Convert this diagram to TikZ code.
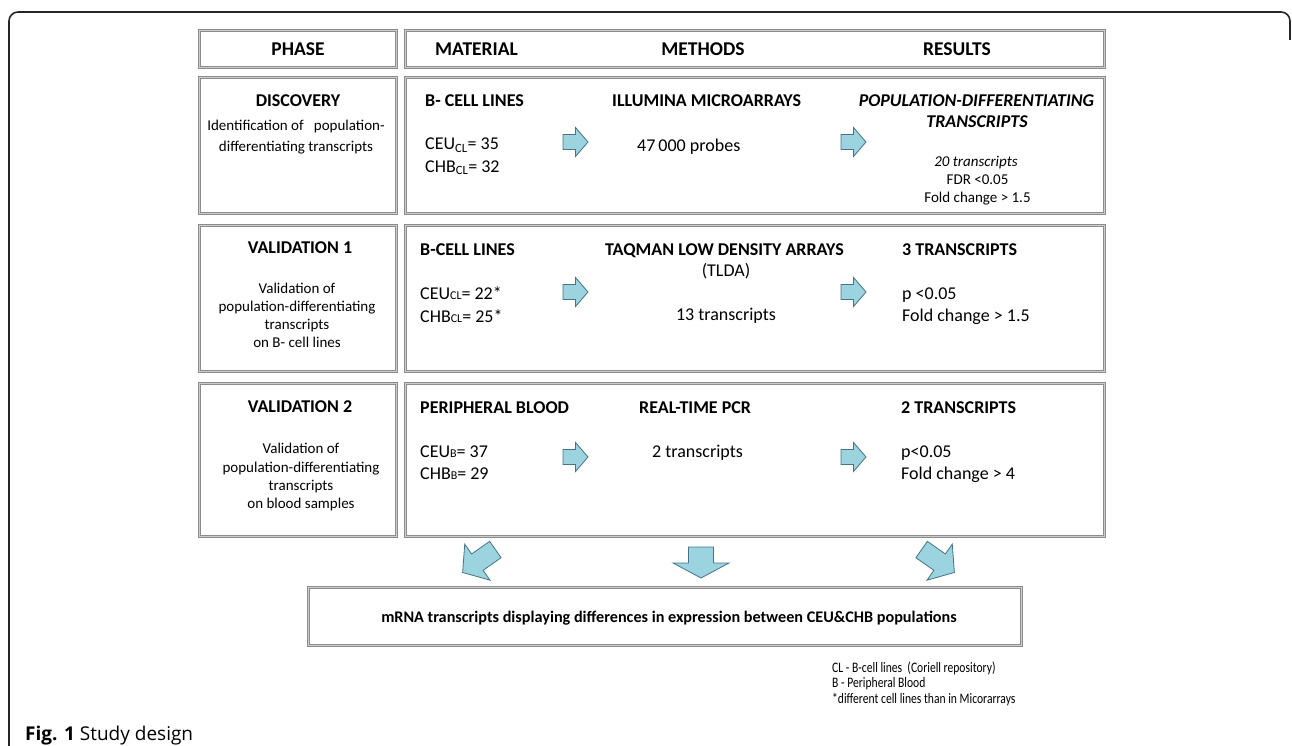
\documentclass[tikz,border=0pt]{standalone}
\usepackage{fontspec}
\setmainfont{Carlito}
\newfontfamily\narrowfont[FakeStretch=0.8]{Carlito}
\newfontfamily\capfont{Open Sans}
\definecolor{arrfillc}{RGB}{155,211,222}
\definecolor{arrdrawc}{RGB}{70,115,135}
\definecolor{boxc}{RGB}{140,140,140}
\definecolor{boxin}{RGB}{205,205,205}
\begin{document}
\begin{tikzpicture}[x=1pt,y=-1pt,
  cell/.style={draw=boxc, double=boxin, double distance=1.5pt, line width=1pt, inner sep=0pt},
  txt/.style={inner sep=0pt, font=\fontsize{18}{21}\selectfont},
  hdr/.style={inner sep=0pt, font=\fontsize{19.5}{22}\selectfont\bfseries},
  ttl/.style={inner sep=0pt, font=\fontsize{18}{21}\selectfont\bfseries},
  dsc/.style={inner sep=0pt, font=\fontsize{15}{18}\selectfont},
  fnote/.style={inner sep=0pt, font=\fontsize{14.5}{15}\narrowfont},
  arrfill/.style={fill=arrfillc, draw=arrdrawc, line width=0.8pt, line join=miter},
  smallarr/.pic={\draw[arrfill] (-12.5,-7.5) -- (0,-7.5) -- (0,-14.5) -- (12.5,0) -- (0,14.5) -- (0,7.5) -- (-12.5,7.5) -- cycle;},
  bigarr/.pic={\draw[arrfill] (-15.5,-12.5) -- (0.5,-12.5) -- (0.5,-28) -- (15.5,0) -- (0.5,28) -- (0.5,12.5) -- (-15.5,12.5) -- cycle;},
  diagarr/.pic={\draw[arrfill] (-20,-10) -- (2,-10) -- (2,-22) -- (20,0) -- (2,22) -- (2,10) -- (-20,10) -- cycle;}
]
\useasboundingbox (0,0) rectangle (1292,746);
% outer frame
\draw[line width=1.6pt, black!85, rounded corners=9pt] (9,750) -- (9,12) -- (1290,12) -- (1290,40);

% boxes
\node[cell, minimum width=197pt, minimum height=37pt] (phaseh) at (298,49) {};
\node[cell, minimum width=699pt, minimum height=37pt] (mmrh) at (755,49) {};
\node[cell, minimum width=197pt, minimum height=136pt] (disc) at (298,145.5) {};
\node[cell, minimum width=699pt, minimum height=136pt] (discR) at (755,145.5) {};
\node[cell, minimum width=197pt, minimum height=146pt] (valA) at (298,298.5) {};
\node[cell, minimum width=699pt, minimum height=146pt] (valAR) at (755,298.5) {};
\node[cell, minimum width=197pt, minimum height=153pt] (valB) at (298,460) {};
\node[cell, minimum width=699pt, minimum height=153pt] (valBR) at (755,460) {};
\node[cell, minimum width=713pt, minimum height=58pt] (final) at (665,616.5) {};

% headers
\node[hdr, anchor=base] (hphase) at (298,56) {PHASE};
\node[hdr, anchor=base west] (hmat) at (435,56) {MATERIAL};
\node[hdr, anchor=base] (hmeth) at (703,56) {METHODS};
\node[hdr, anchor=base] (hres) at (957,56) {RESULTS};

% discovery
\node[ttl, anchor=base] (t1) at (298,107) {DISCOVERY};
\node[dsc, anchor=base] (d1a) at (296,130.5) {Identification of \ \ population-};
\node[dsc, anchor=base] (d1b) at (296,151.5) {differentiating transcripts};
\node[ttl, anchor=base west] (m1) at (425,107) {B- CELL LINES};
\node[txt, anchor=base west] (m1a) at (425,150) {CEU\textsubscript{CL}= 35};
\node[txt, anchor=base west] (m1b) at (425,172) {CHB\textsubscript{CL}= 32};
\node[ttl, anchor=base west] (me1) at (612,107) {ILLUMINA MICROARRAYS};
\node[txt, anchor=base west] (me1a) at (637,152) {47\,000 probes};
\node[ttl, anchor=base] (r1) at (976.5,107) {\itshape POPULATION-DIFFERENTIATING};
\node[ttl, anchor=base] (r1b) at (977,128) {\itshape TRANSCRIPTS};
\node[dsc, anchor=base] (r1c) at (976,167) {\itshape 20 transcripts};
\node[dsc, anchor=base] (r1d) at (977.5,185) {FDR <0.05};
\node[dsc, anchor=base] (r1e) at (977.5,203) {Fold change > 1.5};

% validation 1
\node[ttl, anchor=base] (t2) at (300,253) {VALIDATION 1};
\node[dsc, anchor=base] (d2a) at (297,293) {Validation of};
\node[dsc, anchor=base] (d2b) at (297,311) {population-differentiating};
\node[dsc, anchor=base] (d2c) at (297,329) {transcripts};
\node[dsc, anchor=base] (d2d) at (297,347) {on B- cell lines};
\node[ttl, anchor=base west] (m2) at (420,255) {B-CELL LINES};
\node[txt, anchor=base west] (m2a) at (420,299) {CEU{\fontsize{12}{12}\selectfont CL}= 22*};
\node[txt, anchor=base west] (m2b) at (420,322) {CHB{\fontsize{12}{12}\selectfont CL}= 25*};
\node[ttl, anchor=base west] (me2) at (605,255) {TAQMAN LOW DENSITY ARRAYS};
\node[txt, anchor=base] (me2a) at (726,276) {(TLDA)};
\node[txt, anchor=base] (me2b) at (726,320) {13 transcripts};
\node[ttl, anchor=base west] (r2) at (902,255) {3 TRANSCRIPTS};
\node[txt, anchor=base west] (r2a) at (902,299) {p <0.05};
\node[txt, anchor=base west] (r2b) at (902,321) {Fold change > 1.5};

% validation 2
\node[ttl, anchor=base] (t3) at (300,412) {VALIDATION 2};
\node[dsc, anchor=base] (d3a) at (301,453) {Validation of};
\node[dsc, anchor=base] (d3b) at (301,472) {population-differentiating};
\node[dsc, anchor=base] (d3c) at (301,490) {transcripts};
\node[dsc, anchor=base] (d3d) at (301,508) {on blood samples};
\node[ttl, anchor=base west] (m3) at (420,413) {PERIPHERAL BLOOD};
\node[txt, anchor=base west] (m3a) at (420,457) {CEU{\fontsize{12}{12}\selectfont B}= 37};
\node[txt, anchor=base west] (m3b) at (420,479) {CHB{\fontsize{12}{12}\selectfont B}= 29};
\node[ttl, anchor=base west] (me3) at (639,413) {REAL-TIME PCR};
\node[txt, anchor=base west] (me3a) at (652,457) {2 transcripts};
\node[ttl, anchor=base west] (r3) at (901,413) {2 TRANSCRIPTS};
\node[txt, anchor=base west] (r3a) at (901,457) {p<0.05};
\node[txt, anchor=base west] (r3b) at (901,479) {Fold change > 4};

% small arrows
\pic (a11) at (575.5,142) {smallarr};
\pic (a12) at (853.5,142) {smallarr};
\pic (a21) at (575.5,292) {smallarr};
\pic (a22) at (853.5,292) {smallarr};
\pic (a31) at (575.5,457) {smallarr};
\pic (a32) at (853.5,457) {smallarr};

% big arrows
\pic[rotate=215] (bl) at (479,561) {diagarr};
\pic[rotate=270] (bm) at (701,562.5) {bigarr};
\pic[rotate=325] (br) at (938,561) {diagarr};

% final box
\node[inner sep=0pt, anchor=base, font=\fontsize{16.2}{19}\selectfont\bfseries] (fin) at (669,622) {mRNA transcripts displaying differences in expression between CEU\&CHB populations};

% footnotes
\node[fnote, anchor=base west] (f1) at (832,672) {CL - B-cell lines \ (Coriell repository)};
\node[fnote, anchor=base west] (f2) at (832,687.5) {B - Peripheral Blood};
\node[fnote, anchor=base west] (f3) at (832,703) {*different cell lines than in Micorarrays};

% caption
\node[inner sep=0pt, anchor=base west, font=\fontsize{19}{22}\capfont] (cap) at (25,740) {\textbf{Fig. 1} Study design};
\end{tikzpicture}
\end{document}
